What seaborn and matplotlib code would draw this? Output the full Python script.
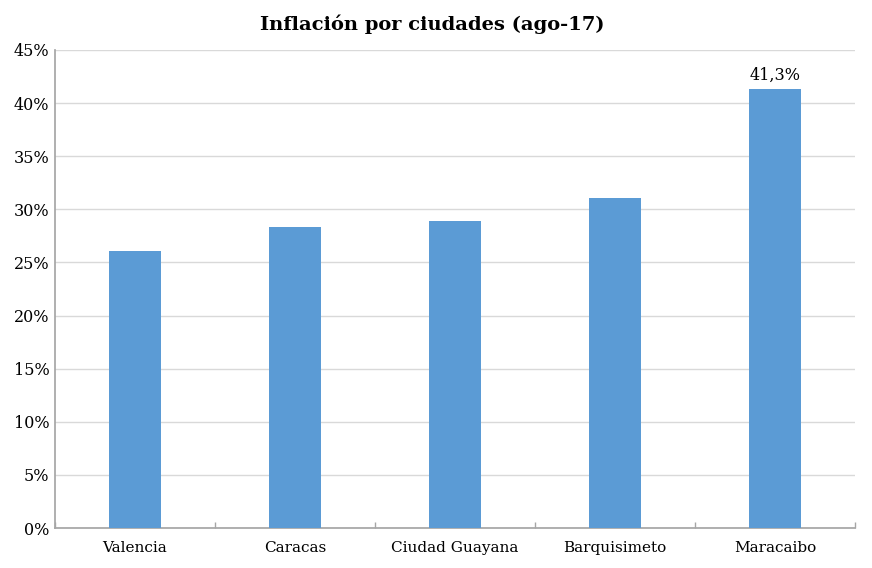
import matplotlib
matplotlib.use("Agg")
import matplotlib.pyplot as plt
import seaborn as sns
import pandas as pd
from matplotlib.ticker import FuncFormatter, FixedLocator

# data
ciudades = ["Valencia", "Caracas", "Ciudad Guayana", "Barquisimeto", "Maracaibo"]
inflacion = [26.1, 28.3, 28.9, 31.1, 41.3]
df = pd.DataFrame({"ciudad": ciudades, "inflacion": inflacion})

sns.set_theme(style="white")
plt.rcParams["font.family"] = ["DejaVu Serif"]
plt.rcParams["text.color"] = "black"
plt.rcParams["xtick.labelcolor"] = "black"
plt.rcParams["ytick.labelcolor"] = "black"

fig = plt.figure(figsize=(8.72, 5.68), dpi=100)
ax = fig.add_axes([0.063, 0.0704, 0.9175, 0.8416])

sns.barplot(data=df, x="ciudad", y="inflacion", color="#5B9BD5", width=0.32,
            saturation=1, ax=ax, zorder=3, linewidth=0)

ax.set_ylim(0, 45)
ax.set_xlim(-0.5, len(ciudades) - 0.5)
ax.set_yticks(range(0, 46, 5))
ax.yaxis.set_major_formatter(FuncFormatter(lambda v, p: f"{int(v)}%"))
ax.grid(axis="y", color="#D9D9D9", linewidth=1, zorder=0)
ax.set_axisbelow(True)

for s in ["top", "right"]:
    ax.spines[s].set_visible(False)
ax.spines["left"].set_color("#A6A6A6")
ax.spines["bottom"].set_color("#A6A6A6")

ax.set_xlabel("")
ax.set_ylabel("")
ax.tick_params(axis="y", length=0, labelsize=11.5, pad=4)
ax.tick_params(axis="x", length=0, labelsize=11, pad=9)
# small tick marks between categories, pointing up
ax.xaxis.set_minor_locator(FixedLocator([i + 0.5 for i in range(-1, len(ciudades))]))
ax.tick_params(axis="x", which="minor", bottom=True, length=4, width=1,
               color="#A6A6A6", direction="in")

# label on the last bar
ax.text(4, inflacion[4] + 0.5, "41,3%", ha="center", va="bottom", fontsize=11.5)

fig.suptitle("Inflación por ciudades (ago-17)", x=0.496, y=0.975, fontsize=14,
             fontweight="bold", va="top")

plt.savefig("out.png", dpi=100)
